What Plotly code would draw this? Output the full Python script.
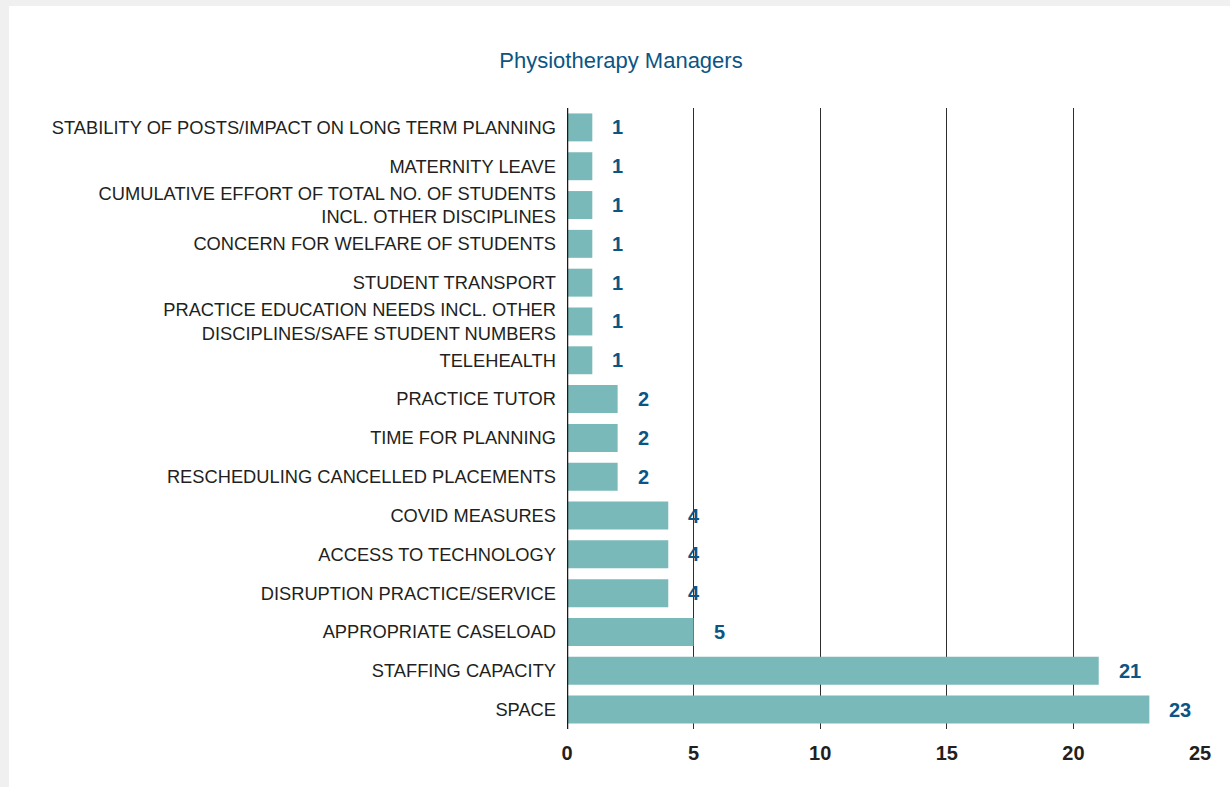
import plotly.graph_objects as go

categories = [
    "STABILITY OF POSTS/IMPACT ON LONG TERM PLANNING",
    "MATERNITY LEAVE",
    "CUMULATIVE EFFORT OF TOTAL NO. OF STUDENTS<br>INCL. OTHER DISCIPLINES",
    "CONCERN FOR WELFARE OF STUDENTS",
    "STUDENT TRANSPORT",
    "PRACTICE EDUCATION NEEDS INCL. OTHER<br>DISCIPLINES/SAFE STUDENT NUMBERS",
    "TELEHEALTH",
    "PRACTICE TUTOR",
    "TIME FOR PLANNING",
    "RESCHEDULING CANCELLED PLACEMENTS",
    "COVID MEASURES",
    "ACCESS TO TECHNOLOGY",
    "DISRUPTION PRACTICE/SERVICE",
    "APPROPRIATE CASELOAD",
    "STAFFING CAPACITY",
    "SPACE",
]
values = [1, 1, 1, 1, 1, 1, 1, 2, 2, 2, 4, 4, 4, 5, 21, 23]
x_ticks = [0, 5, 10, 15, 20, 25]

BAR = "#7ab9ba"
LABEL = "#0b5584"
TXT = "#231f20"
FONT = "Liberation Sans, Arial, sans-serif"

W, H = 1230, 787
L, R, T, B = 567, 30, 108, 58
pw = W - L - R
ph = H - T - B

fig = go.Figure()
fig.add_trace(go.Bar(
    x=values, y=categories, orientation="h",
    marker=dict(color=BAR, line=dict(width=0)),
    width=0.72, hoverinfo="x+y",
))

for c, v in zip(categories, values):
    fig.add_annotation(
        x=v, y=c, text=f"<b>{v}</b>", showarrow=False,
        xanchor="left", yanchor="middle", xshift=18,
        font=dict(family=FONT, size=20, color=LABEL),
    )

def px_x(p):
    return (p - L) / pw

def px_y(p):
    return (H - B - p) / ph

# light gray page frame bands
fig.add_shape(type="rect", xref="paper", yref="paper",
              x0=px_x(0), x1=px_x(9), y0=px_y(H), y1=px_y(0),
              fillcolor="#eff0ef", line=dict(width=0), layer="below")
fig.add_shape(type="rect", xref="paper", yref="paper",
              x0=px_x(0), x1=px_x(W), y0=px_y(6), y1=px_y(0),
              fillcolor="#eff0ef", line=dict(width=0), layer="below")
# zero axis line
fig.add_shape(type="line", xref="x", yref="paper", x0=0, x1=0, y0=0, y1=1,
              line=dict(color="#1a1a1a", width=2.5), layer="above")

fig.update_layout(
    width=W, height=H,
    margin=dict(l=L, r=R, t=T, b=B, pad=0),
    paper_bgcolor="white", plot_bgcolor="white",
    showlegend=False,
    title=dict(text="Physiotherapy Managers", x=621 / W, xref="container",
               xanchor="center", y=1 - 60 / H, yref="container", yanchor="middle",
               font=dict(family=FONT, size=22, color=LABEL)),
    xaxis=dict(range=[0, 25], tickvals=x_ticks,
               ticktext=[f"<b>{t}</b>" for t in x_ticks],
               showgrid=True, gridcolor="#2e2e2e", gridwidth=1.2,
               zeroline=False, showline=False, ticks="",
               ticklabelstandoff=10,
               tickfont=dict(family=FONT, size=20, color=TXT)),
    yaxis=dict(categoryorder="array", categoryarray=categories,
               autorange="reversed", showgrid=False, zeroline=False,
               showline=False, ticks="", ticklabelstandoff=10,
               tickfont=dict(family=FONT, size=18.3, color=TXT)),
)

fig.write_html("out.html", config={"displayModeBar": False})

with open("out.html", "r", encoding="utf-8") as f:
    html = f.read()
html = html.replace("<body>", '<body style="margin:0;padding:0;">', 1)
html = html.replace("<head>", "<head><style>html,body{margin:0;padding:0;}</style>", 1)
with open("out.html", "w", encoding="utf-8") as f:
    f.write(html)
